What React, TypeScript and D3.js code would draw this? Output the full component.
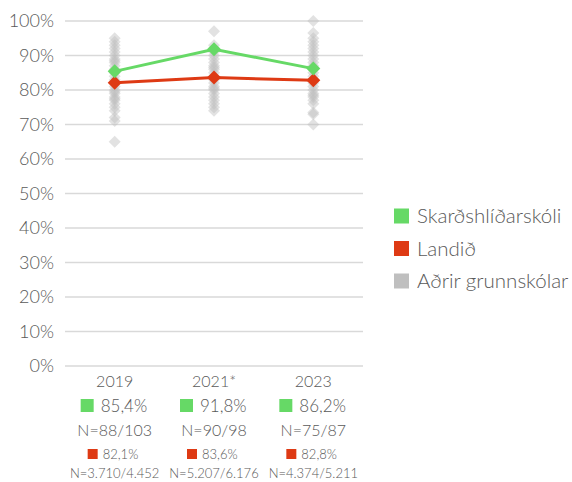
import * as React from "react";
import * as d3 from "d3";

const years = ["2019", "2021*", "2023"];
const schoolValues = [85.4, 91.8, 86.2];
const nationValues = [82.1, 83.6, 82.8];
const schoolLabels = ["85,4%", "91,8%", "86,2%"];
const schoolN = ["N=88/103", "N=90/98", "N=75/87"];
const nationLabels = ["82,1%", "83,6%", "82,8%"];
const nationN = ["N=3.710/4.452", "N=5.207/6.176", "N=4.374/5.211"];
const yTicks = [0, 10, 20, 30, 40, 50, 60, 70, 80, 90, 100];
const otherSchools = [
	[65, 71, 72, 74, 75, 76, 77, 77.5, 78, 79, 79.5, 80, 81, 82, 83, 84, 85, 86, 87, 88, 88.5, 89, 90, 91, 92, 93, 94, 95],
	[74, 75, 76, 77, 78, 79, 80, 80.5, 81, 82, 83, 84, 85, 86, 86.5, 87, 88, 89, 90, 91, 92, 93, 97],
	[70, 73, 73.5, 76, 77, 78, 78.5, 79, 80, 81, 82, 83, 84, 85, 86, 87, 88, 89, 90, 91, 92, 93, 94, 95, 96.5, 100],
];
const legendItems = ["Skarðshlíðarskóli", "Landið", "Aðrir grunnskólar"];

const green = "#66D966";
const red = "#DE3A14";
const gray = "#BFBFBF";
const textColor = "#595959";

function diamond(cx: number, cy: number, r: number) {
	return `M${cx},${cy - r}L${cx + r},${cy}L${cx},${cy + r}L${cx - r},${cy}Z`;
}

export default function App() {
	const width = 572;
	const height = 482;
	const left = 65;
	const right = 363;
	const top = 21;
	const bottom = 366;

	const x = d3.scaleBand<string>().domain(years).range([left, right]);
	const y = d3.scaleLinear().domain([0, 100]).range([bottom, top]);
	const cx = (i: number) => x(years[i])! + x.bandwidth() / 2;

	const line = d3
		.line<number>()
		.x((_, i) => cx(i))
		.y((d) => y(d));

	const legendColors = [green, red, gray];

	return (
		<svg
			width={width}
			height={height}
			style={{ position: "absolute", left: 0, top: 0 }}
			fontFamily="Lato, sans-serif"
			fontWeight={300}
			fill={textColor}
		>
			{yTicks.map((t) => (
				<g key={t}>
					<line x1={left} x2={right} y1={y(t)} y2={y(t)} stroke="#D9D9D9" strokeWidth={1.5} />
					<text x={54} y={y(t)} dy="0.35em" textAnchor="end" fontSize={18}>
						{t}%
					</text>
				</g>
			))}
			{otherSchools.map((vals, i) =>
				vals.map((v, j) => (
					<path key={`${i}-${j}`} d={diamond(cx(i), y(v), 6)} fill={gray} opacity={0.45} />
				))
			)}
			<path d={line(nationValues)!} fill="none" stroke={red} strokeWidth={3} />
			<path d={line(schoolValues)!} fill="none" stroke={green} strokeWidth={3} />
			{nationValues.map((v, i) => (
				<path key={i} d={diamond(cx(i), y(v), 7)} fill={red} />
			))}
			{schoolValues.map((v, i) => (
				<path key={i} d={diamond(cx(i), y(v), 7)} fill={green} />
			))}
			{years.map((yr, i) => (
				<g key={yr} transform={`translate(${cx(i)},0)`}>
					<text y={387} textAnchor="middle" fontSize={16}>
						{yr}
					</text>
					<rect x={-34} y={399} width={13} height={13} fill={green} />
					<text x={-14} y={412} fontSize={17}>
						{schoolLabels[i]}
					</text>
					<text y={436} textAnchor="middle" fontSize={16}>
						{schoolN[i]}
					</text>
					<rect x={-27} y={449} width={10} height={10} fill={red} />
					<text x={-12} y={459} fontSize={13}>
						{nationLabels[i]}
					</text>
					<text y={478} textAnchor="middle" fontSize={13}>
						{nationN[i]}
					</text>
				</g>
			))}
			{legendItems.map((name, i) => (
				<g key={name} transform={`translate(394,${216 + i * 32.5})`}>
					<rect x={0} y={-7.5} width={15} height={15} fill={legendColors[i]} />
					<text x={23} y={0} dy="0.35em" fontSize={20.5}>
						{name}
					</text>
				</g>
			))}
		</svg>
	);
}
